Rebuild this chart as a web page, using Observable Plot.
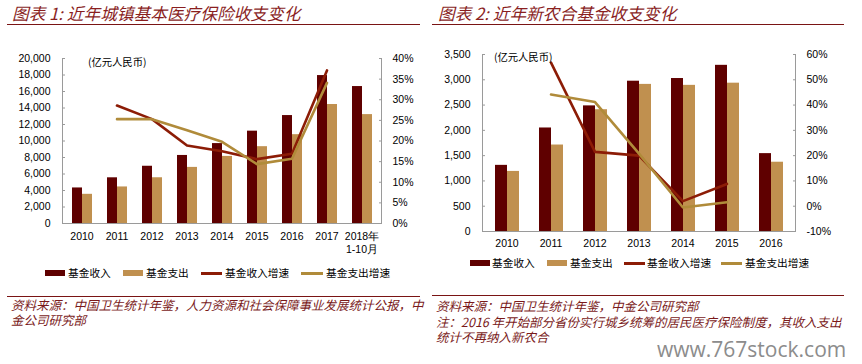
<!DOCTYPE html>
<html><head><meta charset="utf-8">
<script src="https://cdn.jsdelivr.net/npm/d3@7"></script>
<script src="https://cdn.jsdelivr.net/npm/@observablehq/plot@0.6"></script>
<style>
body{margin:0;background:#fff;}
#page{position:relative;width:862px;height:364px;overflow:hidden;background:#fff;font-family:"Liberation Sans",Arial,sans-serif;}
.abs{position:absolute;}
.title{font-family:"Noto Sans CJK SC",sans-serif;font-style:italic;font-size:16.7px;color:#8a1f1f;line-height:18px;white-space:nowrap;}
.rule{height:0;border-top:1.5px solid #7a1414;}
.thin{height:0;border-top:1px solid #7a1414;}
.unit{font-family:"Noto Sans CJK SC",sans-serif;font-size:10.3px;color:#000;line-height:14px;white-space:nowrap;}
.lg{font-family:"Noto Sans CJK SC",sans-serif;font-size:10.7px;color:#000;line-height:14px;white-space:nowrap;height:14px;}
.src{font-family:"Noto Sans CJK SC",sans-serif;font-style:italic;font-size:12.5px;color:#7a1a1a;line-height:15px;white-space:nowrap;}
.wm{font-family:"Open Sans",sans-serif;font-size:21px;color:#8c8c8c;line-height:24px;white-space:nowrap;}
</style></head>
<body>
<div id="page">
  <div class="abs title" style="left:12px;top:4px">图表 1: 近年城镇基本医疗保险收支变化</div>
  <div class="abs rule" style="left:7px;top:24px;width:413px"></div>
  <div id="c1" class="abs" style="left:0;top:40px;width:431px;height:225px"></div>
  <div class="abs unit" style="left:88px;top:55px">(亿元人民币)</div>
  <div class="abs thin" style="left:7px;top:296px;width:413px"></div>
  <div class="abs src" style="left:11px;top:297px">资料来源：中国卫生统计年鉴，人力资源和社会保障事业发展统计公报，中<br>金公司研究部</div>

  <div class="abs title" style="left:438px;top:4px">图表 2: 近年新农合基金收支变化</div>
  <div class="abs rule" style="left:432px;top:24px;width:412px"></div>
  <div id="c2" class="abs" style="left:431px;top:40px;width:431px;height:210px"></div>
  <div class="abs unit" style="left:494px;top:50px">(亿元人民币)</div>
  <div class="abs thin" style="left:432px;top:295px;width:412px"></div>
  <div class="abs src" style="left:436px;top:297px;line-height:17px">资料来源：中国卫生统计年鉴，中金公司研究部</div>
  <div class="abs src" style="left:436px;top:314px">注：2016 年开始部分省份实行城乡统筹的居民医疗保险制度，其收入支出<br>统计不再纳入新农合</div>
  <div class="abs wm" style="left:657px;top:337px">www.767stock.com</div>
</div>
<script>
// ---------- data ----------
const seriesNames = ["基金收入", "基金支出"];
const growthNames = ["基金收入增速", "基金支出增速"];

const years1 = ["2010", "2011", "2012", "2013", "2014", "2015", "2016", "2017", "2018年\n1-10月"];
const income1 = [4309, 5539, 6939, 8248, 9687, 11193, 13084, 17932, 16600];
const expense1 = [3538, 4431, 5544, 6801, 8134, 9312, 10767, 14422, 13200];
const incomeGrowth1 = [null, 28.6, 25.3, 18.9, 17.5, 15.6, 16.9, 37.1, null];
const expenseGrowth1 = [null, 25.3, 25.3, 22.6, 19.8, 14.4, 15.7, 34.1, null];
const amountTicks1 = [0, 2000, 4000, 6000, 8000, 10000, 12000, 14000, 16000, 18000, 20000];
const pctTicks1 = [0, 5, 10, 15, 20, 25, 30, 35, 40];

const years2 = ["2010", "2011", "2012", "2013", "2014", "2015", "2016"];
const income2 = [1308, 2047, 2484, 2972, 3025, 3286, 1540];
const expense2 = [1188, 1710, 2408, 2909, 2890, 2933, 1370];
const incomeGrowth2 = [null, 56.8, 21.5, 20.0, 2.0, 8.8, null];
const expenseGrowth2 = [null, 44.2, 41.2, 20.8, -0.5, 1.6, null];
const amountTicks2 = [0, 500, 1000, 1500, 2000, 2500, 3000, 3500];
const pctTicks2 = [-10, 0, 10, 20, 30, 40, 50, 60];

// ---------- styles ----------
const barColors = ["#5f0000", "#c0904f"];
const lineColors = ["#8c1c06", "#b08b3a"];
const axisGray = "#9a9a9a";

function svgStyle() {
  return {fontFamily: "'Liberation Sans', Arial, sans-serif", fontSize: "10.5px", color: "#000",
    background: "transparent", overflow: "visible", position: "absolute", left: "0px", top: "0px", maxWidth: "none"};
}

function drawChart(el, cfg) {
  const {width, height, mt, mb, ml, mr, years, income, expense, incG, expG,
         aDomain, aTicks, pDomain, pTicks, padIn, padOut, xPad} = cfg;
  const common = {width, height, marginTop: mt, marginBottom: mb, marginLeft: ml, marginRight: mr};
  const rows = years.flatMap((yr, i) => [
    {year: yr, series: seriesNames[0], value: income[i]},
    {year: yr, series: seriesNames[1], value: expense[i]}
  ]);
  const growth = years.flatMap((yr, i) => [
    {year: yr, series: growthNames[0], value: incG[i]},
    {year: yr, series: growthNames[1], value: expG[i]}
  ]).filter(d => d.value != null);

  // bars (faceted by year)
  const bars = Plot.plot({
    ...common, style: svgStyle(),
    fx: {domain: years, paddingInner: padIn, paddingOuter: padOut, label: null},
    x: {domain: seriesNames, padding: 0, axis: null},
    y: {domain: aDomain, axis: null},
    color: {domain: seriesNames, range: barColors},
    marks: [
      Plot.barY(rows, {fx: "year", x: "series", y: "value", fill: "series"}),
      Plot.axisFx({anchor: "bottom", tickSize: 0, tickPadding: xPad, label: null, lineHeight: 1.2, fill: "#000"})
    ]
  });
  // left amount axis
  const left = Plot.plot({
    ...common, style: svgStyle(),
    y: {domain: aDomain},
    marks: [
      Plot.axisY({ticks: aTicks, tickFormat: d3.format(","), tickSize: -3, tickPadding: cfg.yPadL,
                  stroke: axisGray, fill: "#000", label: null})
    ]
  });
  // growth lines + right axis + frame
  const lines = Plot.plot({
    ...common, style: svgStyle(),
    x: {type: "band", domain: years, paddingInner: padIn, paddingOuter: padOut, axis: null},
    y: {domain: pDomain, axis: null},
    color: {domain: growthNames, range: lineColors},
    marks: [
      Plot.frame({anchor: "left", stroke: axisGray}),
      Plot.frame({anchor: "right", stroke: axisGray}),
      Plot.frame({anchor: "bottom", stroke: axisGray}),
      Plot.line(growth, {x: "year", y: "value", z: "series", stroke: "series", strokeWidth: 2.6}),
      Plot.axisY({anchor: "right", ticks: pTicks, tickFormat: d => d + "%", tickSize: -3, tickPadding: cfg.yPadR,
                  stroke: axisGray, fill: "#000", label: null})
    ]
  });
  el.append(bars, left, lines);
}

drawChart(document.getElementById("c1"), {
  width: 431, height: 225, mt: 18, mb: 42, ml: 62, mr: 50,
  years: years1, income: income1, expense: expense1, incG: incomeGrowth1, expG: expenseGrowth1,
  aDomain: [0, 20000], aTicks: amountTicks1, pDomain: [0, 40], pTicks: pctTicks1,
  padIn: 0.4, padOut: 0.2, xPad: 8, yPadL: 15, yPadR: 14
});
drawChart(document.getElementById("c2"), {
  width: 431, height: 210, mt: 14, mb: 19, ml: 51, mr: 67,
  years: years2, income: income2, expense: expense2, incG: incomeGrowth2, expG: expenseGrowth2,
  aDomain: [0, 3500], aTicks: amountTicks2, pDomain: [-10, 60], pTicks: pctTicks2,
  padIn: 0.43, padOut: 0.215, xPad: 7, yPadL: 15, yPadR: 14
});

// ---------- legends (HTML) ----------
function legend(cy, layout) {
  const items = [
    {label: seriesNames[0], color: barColors[0], kind: "bar"},
    {label: seriesNames[1], color: barColors[1], kind: "bar"},
    {label: growthNames[0], color: lineColors[0], kind: "line"},
    {label: growthNames[1], color: lineColors[1], kind: "line"}
  ];
  items.forEach((it, i) => {
    const [sx, sw, tx] = layout[i];
    const sh = it.kind === "bar" ? 6 : 3;
    const s = document.createElement("div");
    s.className = "abs";
    Object.assign(s.style, {left: sx + "px", top: (cy - sh / 2) + "px", width: sw + "px", height: sh + "px", background: it.color});
    const t = document.createElement("div");
    t.className = "abs lg";
    Object.assign(t.style, {left: tx + "px", top: (cy - 7) + "px"});
    t.textContent = it.label;
    document.getElementById("page").append(s, t);
  });
}
legend(273, [[45, 20, 68], [123, 20, 146], [201, 21, 225], [301, 22, 326]]);
legend(263, [[470, 20, 492], [547, 20, 570], [624, 21, 647], [721, 21, 745]]);
</script>
</body></html>
